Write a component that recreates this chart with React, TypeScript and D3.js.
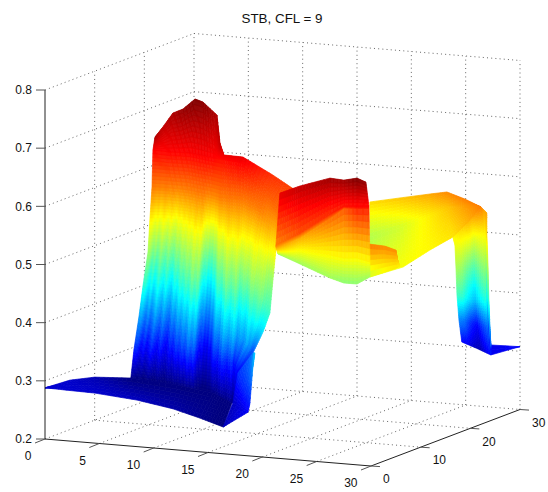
import React from "react";
import * as d3 from "d3";

const titleText = "STB, CFL = 9";
const xTicks = [0, 5, 10, 15, 20, 25, 30];
const yTicks = [0, 10, 20, 30];
const zTicks = [0.2, 0.3, 0.4, 0.5, 0.6, 0.7, 0.8];
const colorLimits = [0.25, 0.72];
const jetStops = [0, 0.125, 0.375, 0.625, 0.875, 1];
const jetColors = ["#00007f", "#0000ff", "#00ffff", "#ffff00", "#ff0000", "#7f0000"];

// low sheet around the origin: front edge (y = 0) and the foot of the wall
const sheetX = [[0, 2, 4.6, 8.47, 11.8, 14.25, 16.4], [0, 0, 0, 0.13, 5, 9.31, 12.74]];
const sheetY = [[0, 0, 0, 0, 0, 0, 0], [0, 5, 10, 17, 15.64, 13.44, 9.76]];
const sheetZ = [[0.288, 0.287, 0.286, 0.28, 0.27, 0.258, 0.246], [0.288, 0.285, 0.274, 0.25, 0.25, 0.25, 0.25]];

// blue side piece next to the front corner of the sheet
const sideX = [[16.4, 12.81, 13.01, 13.63, 13.63], [16.4, 18.68, 18.86, 19.13, 19.32]];
const sideY = [[0, 9.8, 10.37, 12.05, 12.05], [0, 0, 0, 0, 0]];
const sideZ = [[0.246, 0.25, 0.3, 0.33, 0.33], [0.246, 0.275, 0.291, 0.353, 0.378]];

// main wall: one line per column, from its foot to its crest
const wallX = [
  [0.13, 1.6, 2.0, 3.11, 3.55, 3.76, 4.49, 4.0, 6.09],
  [1.15, 2.52, 3.08, 3.85, 4.12, 4.37, 5.2, 4.85, 3.52],
  [2.16, 3.44, 4.15, 4.59, 4.68, 4.97, 5.9, 5.69, 2.66],
  [3.58, 4.69, 5.22, 5.72, 5.77, 5.93, 6.86, 6.55, 3.78],
  [5.0, 5.93, 6.28, 6.85, 6.86, 6.88, 7.81, 7.4, 3.85],
  [6.37, 7.1, 7.55, 8.02, 8.03, 8.25, 9.17, 8.81, 4.47],
  [7.73, 8.27, 8.82, 9.19, 9.2, 9.61, 10.53, 10.21, 6.39],
  [8.52, 8.96, 9.71, 10.08, 10.06, 10.33, 11.21, 10.4, 11.02],
  [9.31, 9.65, 10.6, 10.97, 10.91, 11.04, 11.89, 10.59, 11.16],
  [12.74, 11.48, 13.03, 13.0, 12.93, 13.34, 13.8, 13.31, 13.23],
  [12.81, 12.58, 15.61, 16.05, 16.66, 16.23, 17.38, 16.06, 15.61],
  [12.81, 13.01, 13.63, 18.32, 19.7, 18.57, 19.65, 20.26, 19.1],
];
const wallY = [
  [17.0, 14.4, 14.56, 12.92, 12.97, 12.91, 11.72, 12.98, 8.81],
  [16.7, 14.3, 14.02, 13.01, 13.24, 13.2, 11.79, 12.85, 16.04],
  [16.4, 14.2, 13.47, 13.1, 13.51, 13.49, 11.86, 12.71, 19.94],
  [16.02, 14.0, 13.45, 12.85, 13.24, 13.42, 11.79, 12.86, 19.51],
  [15.64, 13.79, 13.42, 12.59, 12.96, 13.34, 11.71, 13.0, 21.79],
  [14.96, 13.55, 12.97, 12.35, 12.72, 12.67, 11.03, 12.35, 22.02],
  [14.28, 13.31, 12.51, 12.11, 12.48, 11.99, 10.35, 11.69, 20.65],
  [13.86, 13.11, 11.87, 11.47, 11.83, 11.54, 9.88, 12.18, 11.12],
  [13.44, 12.91, 11.23, 10.83, 11.17, 11.08, 9.4, 12.67, 11.61],
  [9.76, 12.73, 9.74, 10.2, 10.55, 10.05, 9.26, 10.51, 10.9],
  [9.8, 11.12, 6.72, 6.35, 5.42, 7.17, 5.65, 9.75, 11.72],
  [9.8, 10.37, 12.05, 3.81, 2.18, 5.26, 3.5, 2.78, 8.55],
];
const wallZ = [
  [0.25, 0.309, 0.3675, 0.426, 0.485, 0.544, 0.6025, 0.661, 0.7],
  [0.25, 0.309, 0.3675, 0.426, 0.485, 0.544, 0.6025, 0.661, 0.69],
  [0.25, 0.309, 0.3675, 0.426, 0.485, 0.544, 0.6025, 0.661, 0.7],
  [0.25, 0.309, 0.3675, 0.426, 0.485, 0.544, 0.6025, 0.661, 0.71],
  [0.25, 0.309, 0.3675, 0.426, 0.485, 0.544, 0.6025, 0.661, 0.72],
  [0.25, 0.309, 0.3675, 0.426, 0.485, 0.544, 0.6025, 0.661, 0.715],
  [0.25, 0.309, 0.3675, 0.426, 0.485, 0.544, 0.6025, 0.661, 0.7],
  [0.25, 0.309, 0.3675, 0.426, 0.485, 0.544, 0.6025, 0.658, 0.69],
  [0.25, 0.309, 0.3675, 0.426, 0.485, 0.544, 0.6025, 0.655, 0.668],
  [0.25, 0.309, 0.3675, 0.426, 0.485, 0.544, 0.6025, 0.661, 0.67],
  [0.25, 0.309, 0.3675, 0.426, 0.485, 0.544, 0.6025, 0.63, 0.64],
  [0.25, 0.3, 0.33, 0.4, 0.44, 0.485, 0.544, 0.6025, 0.63],
];
const wallStreaks = [
  0.012, 0.02, 0.004, -0.012, 0.006, -0.016, -0.006, 0.012, -0.002, -0.014, 0.004, -0.012,
  -0.02, 0.002, -0.008, 0.014, 0.004, 0.022, 0.01, 0.036, 0.018, 0.034, -0.002, -0.02,
  -0.012, -0.032, -0.022, -0.034, -0.014, -0.024, -0.004, 0.014, 0.004, 0.03, 0.016, 0.032,
  0.006, 0.016, 0.004, 0.024, 0.012, 0.022, 0.008, 0.012,
];
const streakFadeAt = [0.25, 0.33, 0.45, 0.56, 0.62];
const streakFade = [0.2, 1, 1, 0.3, 0.05];

// red ridge and the yellow valley below it: one line per level, left to right
const ridgeX = [
  [15.5, 19.15, 24.21, 25.1, 26.29, 27.03],
  [20.63, 21.46, 24.73, 26.38, 27.37, 29.15],
  [24.4, 23.24, 25.01, 25.22, 29.13, 30.03],
  [25.16, 27.47, 27.7, 28.32, 29.88, 30.78],
  [23.78, 25.63, 28.06, 29.51, 31.84, 32.16],
];
const ridgeY = [
  [12.99, 9.43, 4.4, 5.25, 5.28, 6.27],
  [1.57, 4.37, 3.26, 2.45, 2.92, 1.65],
  [-6.89, 0.48, 2.65, 4.99, -0.92, -0.48],
  [-8.55, -8.77, -3.24, -1.78, -2.57, -2.13],
  [-4.74, -4.75, -4.02, -4.4, -6.85, -5.74],
];
const ridgeZ = [
  [0.5, 0.5, 0.5, 0.49, 0.49, 0.5],
  [0.55, 0.544, 0.544, 0.544, 0.544, 0.544],
  [0.59, 0.58, 0.61, 0.62, 0.645, 0.645],
  [0.6, 0.625, 0.64, 0.65, 0.655, 0.655],
  [0.675, 0.69, 0.705, 0.705, 0.72, 0.71],
];

// small orange shelf at the foot of the ridge
const shelfX = [[33.14, 33.59, 35.22, 34.27], [29.35, 31.81, 33, 32.9]];
const shelfY = [[-7.28, -5.06, -6.4, -3.93], [1.21, -1.17, -1.56, -0.53]];
const shelfZ = [[0.61, 0.6, 0.6, 0.57], [0.52, 0.54, 0.55, 0.55]];

// right plateau
const plateauX = [
  [19.03, 21.65, 24.76, 27.26, 30.53, 33.34],
  [20.05, 22.19, 25.32, 27.16, 30.45, 33.34],
  [30.74, 32.3, 31.52, 31.76, 32.64, 33.34],
];
const plateauY = [
  [23.77, 24.08, 23.33, 21.27, 17.73, 14.82],
  [21.55, 22.9, 22.1, 21.49, 17.91, 14.82],
  [-1.84, 1.4, 8.53, 12.64, 13.74, 14.82],
];
const plateauZ = [
  [0.56, 0.57, 0.584, 0.598, 0.6025, 0.6025],
  [0.5085, 0.523, 0.551, 0.5696, 0.588, 0.6025],
  [0.532, 0.541, 0.546, 0.5555, 0.579, 0.6025],
];

// wall falling to the far corner
const cornerX = [
  [22.58, 23.76, 28.62, 29.39, 29.38, 28.8],
  [24.84, 25.41, 30.66, 31.05, 32.31, 32.74],
  [28.52, 27.54, 31.8, 31.58, 31.76, 33.06],
  [30, 29.43, 32.08, 32.95, 33.29, 32.37],
];
const cornerY = [
  [34.51, 31.36, 20.33, 18.42, 18.25, 19.09],
  [32.41, 30.55, 18.65, 17.61, 14.86, 13.52],
  [27.36, 28.91, 19.19, 19.46, 18.86, 15.43],
  [24.13, 25.18, 19.17, 17.08, 16.13, 18.14],
];
const cornerZ = [
  [0.29, 0.34, 0.426, 0.485, 0.52, 0.53],
  [0.29, 0.34, 0.426, 0.485, 0.544, 0.58],
  [0.3, 0.34, 0.426, 0.485, 0.544, 0.6],
  [0.33, 0.36, 0.43, 0.5, 0.55, 0.58],
];
const cornerStreaks = [0.03, 0.02, -0.01, -0.03, 0, 0.02, -0.01, 0.03];

// low patch in the far corner
const patchX = [[26.53, 30], [28.52, 30]];
const patchY = [[31.72, 30], [27.36, 30]];
const patchZ = [[0.3, 0.308], [0.3, 0.308]];

const xRun = d3.scaleLinear().domain([0, 30]).range([0, 326]);
const xFall = d3.scaleLinear().domain([0, 30]).range([0, 27]);
const yRun = d3.scaleLinear().domain([0, 30]).range([0, 149]);
const yFall = d3.scaleLinear().domain([0, 30]).range([0, -56.5]);
const zFall = d3.scaleLinear().domain([0.2, 0.8]).range([0, -349]);
const ORIGIN = [45, 439];

type Pt = [number, number];
const project = (x: number, y: number, z: number): Pt => [
  ORIGIN[0] + xRun(x) + yRun(y),
  ORIGIN[1] + xFall(x) + yFall(y) + zFall(z),
];

const jet = d3
  .scaleLinear<string>()
  .domain(jetStops.map((t) => colorLimits[0] + t * (colorLimits[1] - colorLimits[0])))
  .range(jetColors)
  .clamp(true);

const fadeScale = d3.scaleLinear().domain(streakFadeAt).range(streakFade).clamp(true);

const quadLine = d3.line<Pt>();

type Cell = { d: string; fill: string };

function mesh(
  X: number[][],
  Y: number[][],
  Z: number[][],
  subI: number,
  subJ: number,
  tint?: (u: number, z: number) => number
): Cell[] {
  const out: Cell[] = [];
  const at = (M: number[][], u: number, v: number) => {
    const i = Math.min(Math.floor(u), M.length - 2);
    const j = Math.min(Math.floor(v), M[0].length - 2);
    const a = u - i;
    const b = v - j;
    return (
      M[i][j] * (1 - a) * (1 - b) +
      M[i + 1][j] * a * (1 - b) +
      M[i][j + 1] * (1 - a) * b +
      M[i + 1][j + 1] * a * b
    );
  };
  const ni = (X.length - 1) * subI;
  const nj = (X[0].length - 1) * subJ;
  for (let i = 0; i < ni; i++) {
    for (let j = 0; j < nj; j++) {
      const corners = [
        [i / subI, j / subJ],
        [(i + 1) / subI, j / subJ],
        [(i + 1) / subI, (j + 1) / subJ],
        [i / subI, (j + 1) / subJ],
      ];
      const pts = corners.map(([u, v]) => project(at(X, u, v), at(Y, u, v), at(Z, u, v)));
      const meanZ = d3.mean(corners, ([u, v]) => at(Z, u, v)) as number;
      const c = tint ? meanZ + tint((i + 0.5) / ni, meanZ) : meanZ;
      out.push({ d: (quadLine(pts) as string) + "Z", fill: jet(c) });
    }
  }
  return out;
}

const streakTint = (values: number[]) => (u: number, z: number) => {
  const p = u * (values.length - 1);
  const k = Math.min(values.length - 2, Math.floor(p));
  const s = values[k] + (values[k + 1] - values[k]) * (p - k);
  return s * fadeScale(z);
};

const cells: Cell[] = [
  ...mesh(patchX, patchY, patchZ, 2, 2),
  ...mesh(cornerX, cornerY, cornerZ, 8, 10, streakTint(cornerStreaks)),
  ...mesh(plateauX, plateauY, plateauZ, 10, 8),
  ...mesh(shelfX, shelfY, shelfZ, 6, 10),
  ...mesh(wallX, wallY, wallZ, 8, 10, streakTint(wallStreaks)),
  ...mesh(ridgeX, ridgeY, ridgeZ, 8, 10),
  ...mesh(sheetX, sheetY, sheetZ, 6, 8),
  ...mesh(sideX, sideY, sideZ, 4, 8, () => 0.03),
];

const seg = (a: Pt, b: Pt) => quadLine([a, b]) as string;

const gridPaths: string[] = [];
zTicks.forEach((z) => {
  gridPaths.push(seg(project(0, 0, z), project(0, 30, z)));
  gridPaths.push(seg(project(0, 30, z), project(30, 30, z)));
});
yTicks.slice(1).forEach((y) => {
  gridPaths.push(seg(project(0, y, 0.2), project(0, y, 0.8)));
});
xTicks.slice(1).forEach((x) => {
  gridPaths.push(seg(project(x, 30, 0.2), project(x, 30, 0.8)));
});
xTicks.slice(1, -1).forEach((x) => {
  gridPaths.push(seg(project(x, 0, 0.2), project(x, 30, 0.2)));
});
yTicks.slice(1, -1).forEach((y) => {
  gridPaths.push(seg(project(0, y, 0.2), project(30, y, 0.2)));
});

const axisPaths = [
  seg(project(0, 0, 0.2), project(0, 0, 0.8)),
  seg(project(0, 0, 0.2), project(30, 0, 0.2)),
  seg(project(30, 0, 0.2), project(30, 30, 0.2)),
];

const tickPaths: string[] = [];
zTicks.forEach((z) => {
  const p = project(0, 0, z);
  tickPaths.push(seg(p, [p[0] - 9, p[1]]));
});
xTicks.forEach((x) => {
  const p = project(x, 0, 0.2);
  tickPaths.push(seg(p, [p[0] - 10, p[1] + 4]));
});
yTicks.forEach((y) => {
  const p = project(30, y, 0.2);
  tickPaths.push(seg(p, [p[0] + 9, p[1] + 0.6]));
});

const FONT = "'Liberation Sans', Arial, Helvetica, sans-serif";

export default function App() {
  return (
    <svg
      width={548}
      height={492}
      viewBox="0 0 548 492"
      style={{ position: "fixed", left: 0, top: 0, background: "#fff" }}
    >
      <g fill="none" stroke="#555" strokeWidth={0.9} strokeDasharray="1 3.2">
        {gridPaths.map((d, i) => (
          <path key={i} d={d} />
        ))}
      </g>
      <g>
        {cells.map((c, i) => (
          <path key={i} d={c.d} fill={c.fill} stroke={c.fill} strokeWidth={0.7} strokeLinejoin="round" />
        ))}
      </g>
      <g fill="none" stroke="#222" strokeWidth={1}>
        {axisPaths.map((d, i) => (
          <path key={i} d={d} />
        ))}
      </g>
      <g fill="none" stroke="#555" strokeWidth={1}>
        {tickPaths.map((d, i) => (
          <path key={i} d={d} />
        ))}
      </g>
      <g fontFamily={FONT} fontSize={12} fill="#111">
        {zTicks.map((z) => {
          const p = project(0, 0, z);
          return (
            <text key={z} x={p[0] - 13} y={p[1] + 1} textAnchor="end" dominantBaseline="middle">
              {z.toFixed(1)}
            </text>
          );
        })}
        {xTicks.map((x) => {
          const p = project(x, 0, 0.2);
          return (
            <text key={x} x={p[0] - 13.5} y={p[1] + 18} textAnchor="end" dominantBaseline="middle">
              {x}
            </text>
          );
        })}
        {yTicks.map((y) => {
          const p = project(30, y, 0.2);
          return (
            <text key={y} x={p[0] + 12} y={p[1] + 14} textAnchor="start" dominantBaseline="middle">
              {y}
            </text>
          );
        })}
      </g>
      <text x={282} y={22.5} textAnchor="middle" fontFamily={FONT} fontSize={13.4} fill="#111">
        {titleText}
      </text>
    </svg>
  );
}
